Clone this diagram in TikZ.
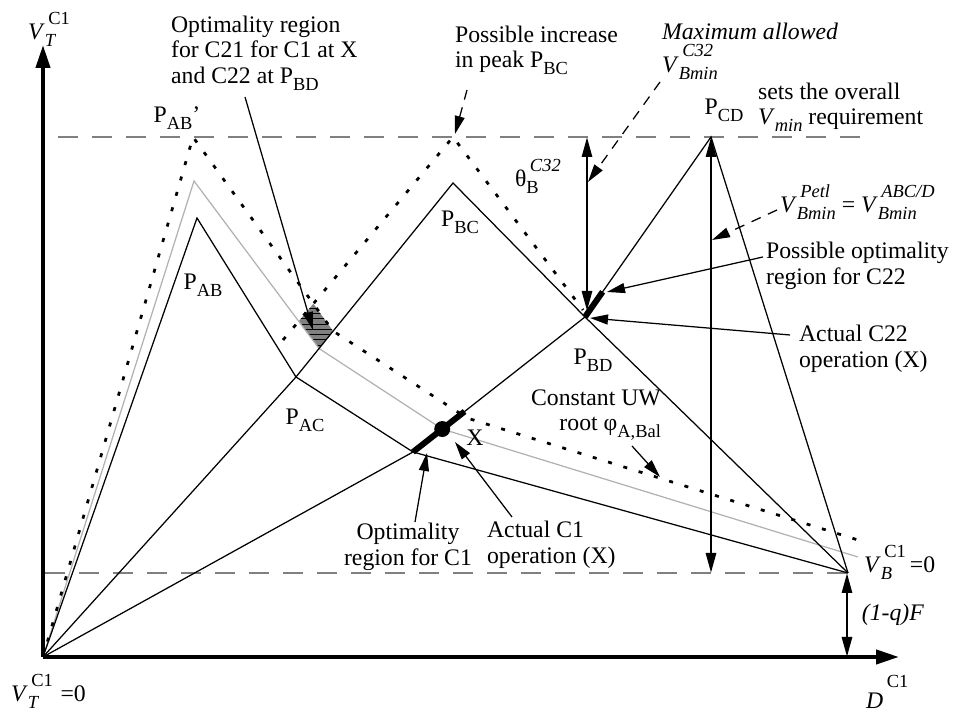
\documentclass[tikz,border=0pt]{standalone}
\usepackage{amsmath}
\usepackage{fontspec}
\setmainfont{Liberation Serif}
\usetikzlibrary{arrows.meta,patterns,calc}

\newcommand{\subsz}{\fontsize{10.5pt}{10.5pt}\selectfont}
\newcommand{\lo}[1]{\raisebox{-3.8pt}{\subsz #1}}
\newcommand{\stk}[3]{#1\makebox[0pt][l]{\raisebox{9pt}{\kern2pt\subsz #3}}\raisebox{-3.8pt}{\subsz #2}}

\begin{document}
\begin{tikzpicture}[
		every node/.style={font=\fontsize{13.5pt}{14.5pt}\selectfont, inner sep=1pt},
		axis/.style={line width=0.8mm, -{Triangle[length=4.6mm, width=2.8mm]}},
		curve/.style={line width=0.25mm},
		softcurve/.style={line width=0.25mm, black!30},
		dotcurve/.style={line width=0.55mm, dash pattern=on 0.8mm off 2.4mm},
		level/.style={line width=0.45mm, black!50, dash pattern=on 4mm off 2.8mm},
		span/.style={line width=0.55mm, {Triangle[length=4mm, width=2mm]}-{Triangle[length=4mm, width=2mm]}},
		leader/.style={line width=0.25mm, -{Triangle[length=3.6mm, width=2mm]}},
		dashleader/.style={leader, dash pattern=on 2mm off 1.6mm},
		oprange/.style={line width=1.2mm}
	]
  \useasboundingbox (-0.86cm, -1.16cm) rectangle (18.24cm, 13.14cm);

  % peaks and junctions
  \coordinate (O) at (0cm, 0cm);
  \coordinate (PAB) at (3.08cm, 8.78cm);
  \coordinate (PABg) at (3.02cm, 9.52cm);
  \coordinate (PABd) at (3.00cm, 10.40cm);
  \coordinate (PAC) at (5.06cm, 5.60cm);
  \coordinate (PBC) at (8.20cm, 9.48cm);
  \coordinate (PBCd) at (8.20cm, 10.40cm);
  \coordinate (PBD) at (10.84cm, 6.80cm);
  \coordinate (PCD) at (13.36cm, 10.40cm);
  \coordinate (VB) at (16.10cm, 1.68cm);
  \coordinate (Xlo) at (7.40cm, 4.10cm);
  \coordinate (Xc) at ($(Xlo)!0.17!(PBD)$);
  \coordinate (Xhi) at ($(Xlo)!0.3!(PBD)$);
  \coordinate (PBDhi) at ($(PBD)!0.14!(PCD)$);
  \coordinate (Hb) at (5.52cm, 6.17cm);
  \coordinate (Hr) at (5.80cm, 6.52cm);
  \coordinate (BCl) at (4.80cm, 6.34cm);
  \coordinate (BCr) at (10.80cm, 6.94cm);
  \coordinate (Dk) at (8.48cm, 4.78cm);
  \coordinate (Dend) at (16.30cm, 2.34cm);
  \coordinate (Gend) at (16.30cm, 2.00cm);
  \coordinate (Hl) at (intersection of PABg--Hb and PBCd--BCl);
  \coordinate (Ht) at (intersection of PABd--Hr and PBCd--BCl);

  % axes and levels
  \coordinate (ytop) at (0cm, 12.24cm);
  \coordinate (xend) at (17.12cm, 0cm);
  \coordinate (Ltl) at (0.30cm, 10.40cm);
  \coordinate (Ltr) at (16.40cm, 10.40cm);
  \coordinate (Lbl) at (0.04cm, 1.68cm);
  \coordinate (thTop) at (10.88cm, 10.40cm);
  \coordinate (thBot) at (10.88cm, 6.92cm);
  \coordinate (cdBot) at (13.36cm, 1.68cm);
  \coordinate (qTop) at (16.08cm, 1.68cm);
  \coordinate (qBot) at (16.08cm, 0cm);

  \fill[black!50] (Hl) -- (Ht) -- (Hr) -- (Hb) -- cycle;
  \fill[pattern=horizontal lines] (Hl) -- (Ht) -- (Hr) -- (Hb) -- cycle;

  \draw[level] (Ltl) -- (Ltr);
  \draw[level] (Lbl) -- (VB);

  \draw[softcurve] (O) -- (PABg) -- (Hb) -- (Xc) -- (Gend);
  \draw[dotcurve] (O) -- (PABd) -- (Hr) -- (Dk) -- (Dend);
  \draw[dotcurve] (BCl) -- (PBCd) -- (BCr);
  \draw[curve] (O) -- (PAB) -- (PAC) -- (Xlo) -- (VB);
  \draw[curve] (O) -- (PAC) -- (PBC) -- (PBD) -- (VB);
  \draw[curve] (O) -- (Xlo) -- (PBD) -- (PCD) -- (VB);

  \draw[oprange] (Xlo) -- (Xhi);
  \fill (Xc) circle (0.16cm);
  \draw[oprange] (PBD) -- (PBDhi);

  \draw[axis] (O) -- (ytop);
  \draw[axis] (O) -- (xend);
  \draw[span] (thTop) -- (thBot);
  \draw[span] (PCD) -- (cdBot);
  \draw[span] (qTop) -- (qBot);

  % labels
  \node (vt) [anchor=base west] at (-0.34cm, 12.34cm) {\stk{\textit{V}}{\textit{T}}{C1}};
  \node (vt0) [anchor=base west] at (-0.68cm, -0.90cm) {\stk{\textit{V}}{\textit{T}}{C1}\hspace{0.9em}=0};
  \node (dc) [anchor=base west] at (16.42cm, -1.04cm) {\textit{D}\raisebox{12pt}{\kern2pt\subsz C1}};
  \node (vb0) [anchor=base west] at (16.38cm, 1.68cm) {\stk{\textit{V}}{\textit{B}}{C1}\hspace{0.75em}=0};
  \node (qF) at (17.00cm, 0.84cm) {\textit{(1-q)F}};
  \node (pabp) at (2.68cm, 10.78cm) {P\lo{AB}'};
  \node (pab) at (3.20cm, 7.44cm) {P\lo{AB}};
  \node (pac) at (5.24cm, 4.74cm) {P\lo{AC}};
  \node (pbc) at (8.34cm, 8.70cm) {P\lo{BC}};
  \node (pbd) at (11.00cm, 5.94cm) {P\lo{BD}};
  \node (pcd) at (13.62cm, 10.94cm) {P\lo{CD}};
  \node (xop) at (8.64cm, 4.38cm) {X};
  \node (theta) [anchor=base west] at (9.40cm, 9.40cm) {\stk{θ}{B}{\textit{C32}}};
  \node (opt21) [anchor=west, align=left] at (2.52cm, 12.08cm)
    {Optimality region\\ for C21 for C1 at X\\ and C22 at P\lo{BD}};
  \node (incr) [anchor=west, align=left] at (8.20cm, 12.14cm)
    {Possible increase\\ in peak P\lo{BC}};
  \node (maxv) [anchor=west, align=left] at (12.34cm, 12.12cm)
    {\itshape Maximum allowed\\[2pt] \stk{\textit{V}}{\textit{Bmin}}{\textit{C32}}};
  \node (vmin) [anchor=west, align=left] at (14.26cm, 11.00cm)
    {sets the overall\\ \textit{V}\lo{\textit{min}} requirement};
  \node (petl) [anchor=base west] at (14.70cm, 8.88cm)
    {\stk{\textit{V}}{\textit{Bmin}}{\textit{Petl}} = \stk{\textit{V}}{\textit{Bmin}}{\textit{ABC/D}}};
  \node (poss22) [anchor=west, align=left] at (14.42cm, 7.82cm)
    {Possible optimality\\ region for C22};
  \node (act22) [anchor=west, align=left] at (15.08cm, 6.16cm)
    {Actual C22\\ operation (X)};
  \node (uw) [anchor=east, align=right] at (12.40cm, 4.84cm)
    {Constant UW\\ root φ\lo{A,Bal}};
  \node (opt1) [align=center] at (7.30cm, 2.20cm)
    {Optimality\\ region for C1};
  \node (act1) [anchor=west, align=left] at (8.84cm, 2.24cm)
    {Actual C1\\ operation (X)};

  % leaders
  \coordinate (t21) at (4.04cm, 11.20cm);
  \coordinate (h21) at (5.40cm, 6.54cm);
  \coordinate (tInc) at (8.48cm, 11.34cm);
  \coordinate (hInc) at (8.24cm, 10.46cm);
  \coordinate (tMax) at (12.34cm, 11.50cm);
  \coordinate (hMax) at (10.90cm, 9.50cm);
  \coordinate (tPetl) at (14.68cm, 8.94cm);
  \coordinate (hPetl) at (13.38cm, 8.34cm);
  \coordinate (tPoss) at (14.40cm, 8.00cm);
  \coordinate (hPoss) at (11.28cm, 7.30cm);
  \coordinate (tAct22) at (14.94cm, 6.44cm);
  \coordinate (hAct22) at (10.94cm, 6.78cm);
  \coordinate (tUW) at (11.78cm, 4.22cm);
  \coordinate (hUW) at (12.34cm, 3.60cm);
  \coordinate (tOpt1) at (7.44cm, 2.70cm);
  \coordinate (hOpt1) at (7.68cm, 4.08cm);
  \coordinate (tAct1) at (9.38cm, 2.80cm);
  \coordinate (hAct1) at (8.24cm, 4.30cm);
  \draw[leader] (t21) -- (h21);
  \draw[dashleader] (tInc) -- (hInc);
  \draw[dashleader] (tMax) -- (hMax);
  \draw[dashleader] (tPetl) -- (hPetl);
  \draw[leader] (tPoss) -- (hPoss);
  \draw[leader] (tAct22) -- (hAct22);
  \draw[leader] (tUW) -- (hUW);
  \draw[leader] (tOpt1) -- (hOpt1);
  \draw[leader] (tAct1) -- (hAct1);
\end{tikzpicture}
\end{document}
